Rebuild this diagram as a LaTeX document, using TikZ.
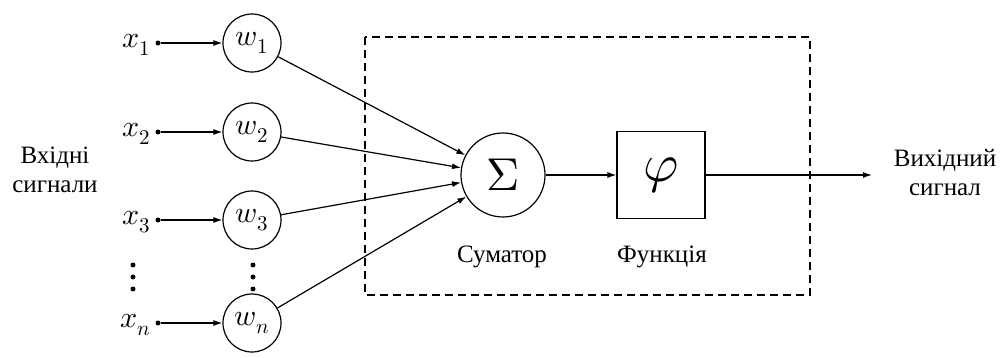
\documentclass[tikz,border=0pt]{standalone}
\usepackage{fontspec}
\usepackage{unicode-math}
\setmainfont{Liberation Serif}
\setmathfont{Latin Modern Math}
\usetikzlibrary{arrows.meta}
\begin{document}
\begin{tikzpicture}[x=1pt,y=-1pt,
  wnode/.style={circle,draw,line width=1.2pt,minimum size=58pt,inner sep=0pt,font=\fontsize{30}{32}\selectfont},
  xlab/.style={font=\fontsize{30}{32}\selectfont,anchor=east,inner sep=0pt},
  lab/.style={font=\fontsize{25}{29}\selectfont,align=center},
  conn/.style={line width=1.2pt,-{Latex[length=9pt,width=6pt]}},
  dotn/.style={circle,fill,inner sep=0pt,minimum size=5pt}]
\useasboundingbox (0,0) rectangle (1005,358);
% inputs
\foreach \i/\y/\s in {1/43/1,2/132/2,3/220/3,n/323/n}{
  \node[xlab] (x\i) at (151,\y+2) {$x_{\s}$};
  \node[dotn] (d\i) at (158,\y) {};
  \node[wnode] (w\i) at (252,\y) {$w_{\s}$};
  \draw[conn] (d\i) -- (w\i);
}
% vertical dots
\foreach \xx in {133,253}{
  \foreach \yy in {265,277,289}{\fill (\xx,\yy) circle (2.5pt);}
}
% dashed box
\draw[line width=2pt,dash pattern=on 8pt off 5pt] (365,37) rectangle (810,295);
% summator and function
\node[circle,draw,line width=1.2pt,minimum size=84pt,inner sep=0pt,font=\fontsize{46}{50}\selectfont] (sum) at (503,175) {$\Sigma$};
\node[draw,line width=1.2pt,minimum width=88pt,minimum height=87pt,inner sep=0pt,font=\fontsize{54}{58}\selectfont] (phi) at (661,175) {$\varphi$};
\foreach \i in {1,2,3,n}{\draw[conn] (w\i) -- (sum);}
\draw[conn] (sum) -- (phi);
\coordinate (out) at (872,175);
\draw[conn] (phi) -- (out);
% labels
\node[lab] (inlab) at (55,170) {Вхідні\\сигнали};
\node[lab] (outlab) at (945,173) {Вихідний\\сигнал};
\node[lab] (sumlab) at (502,257) {Суматор};
\node[lab] (funlab) at (662,257) {Функція};
\end{tikzpicture}
\end{document}
